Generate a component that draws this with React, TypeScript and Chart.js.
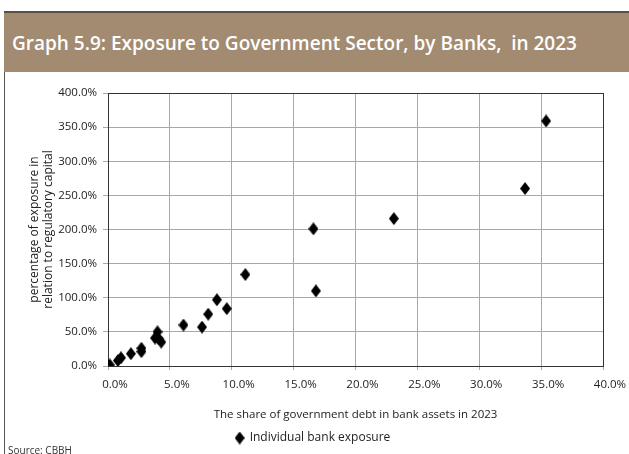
import React, { useEffect, useRef } from "react";
import { Chart, registerables } from "chart.js";

Chart.register(...registerables);

// ---- data ----
const governmentDebtShare = [35.4, 33.7, 23.1, 16.6, 16.8, 11.1, 8.8, 9.6, 8.1, 7.6, 6.1, 4.0, 3.8, 4.3, 4.1, 2.7, 2.7, 1.85, 1.05, 0.8, 0.15, 0.0];
const exposureToCapital = [359, 260, 216, 201, 110, 134, 97, 84, 76, 57, 60, 50, 41, 35, 40, 26, 21, 18, 12, 8, 1.5, 0.3];
const xTickValues = [0, 5, 10, 15, 20, 25, 30, 35, 40];
const yTickValues = [0, 50, 100, 150, 200, 250, 300, 350, 400];
const seriesLabel = "Individual bank exposure";
const chartTitle = "Graph 5.9: Exposure to Government Sector, by Banks,  in 2023";
const xAxisTitle = "The share of government debt in bank assets in 2023";
const yAxisTitle = ["percentage of exposure in", "relation to regulatory capital"];
const sourceNote = "Source: CBBH";

const FONT = "'Open Sans', 'Noto Sans', sans-serif";

function makeDiamond(w: number, h: number, color: string): HTMLCanvasElement {
  const c = document.createElement("canvas");
  c.width = w;
  c.height = h;
  const g = c.getContext("2d")!;
  g.fillStyle = color;
  g.beginPath();
  g.moveTo(w / 2, 0);
  g.lineTo(w, h / 2);
  g.lineTo(w / 2, h);
  g.lineTo(0, h / 2);
  g.closePath();
  g.fill();
  return c;
}

function ScatterChart() {
  const ref = useRef<HTMLCanvasElement | null>(null);

  useEffect(() => {
    if (!ref.current) return;
    const diamond = makeDiamond(10, 13, "#000000");
    const points = governmentDebtShare.map((x, i) => ({ x, y: exposureToCapital[i] }));
    const xMax = xTickValues[xTickValues.length - 1];
    const yMax = yTickValues[yTickValues.length - 1];

    const chart = new Chart(ref.current, {
      type: "scatter",
      data: {
        datasets: [
          {
            label: seriesLabel,
            data: points,
            pointStyle: diamond as any,
            backgroundColor: "#000",
            borderColor: "#000",
          },
        ],
      },
      options: {
        animation: false,
        responsive: false,
        devicePixelRatio: 1,
        layout: { padding: { left: 23, right: 26, top: 21, bottom: 0 } },
        plugins: {
          tooltip: { enabled: false },
          legend: {
            position: "bottom",
            labels: {
              usePointStyle: true,
              boxWidth: 8,
              padding: 10,
              color: "#222",
              font: { family: FONT, size: 12 },
            },
          },
        },
        scales: {
          x: {
            type: "linear",
            min: xTickValues[0],
            max: xMax,
            ticks: {
              stepSize: xTickValues[1] - xTickValues[0],
              callback: (v: any) => Number(v).toFixed(1) + "%",
              color: "#222",
              font: { family: FONT, size: 11.5 },
              padding: 8,
              labelOffset: 7,
              maxRotation: 0,
            },
            grid: {
              color: (ctx: any) => (ctx.tick && ctx.tick.value === xMax ? "#333" : "#a8a8a8"),
              tickColor: "#a8a8a8",
              tickLength: 4,
              lineWidth: 1,
            },
            border: { color: "#333", width: 1 },
            title: {
              display: true,
              text: xAxisTitle,
              color: "#222",
              font: { family: FONT, size: 11.5 },
              padding: { top: 4, bottom: 0 },
            },
            afterFit: (s: any) => {
              s.height = 56;
            },
          },
          y: {
            type: "linear",
            min: yTickValues[0],
            max: yMax,
            ticks: {
              stepSize: yTickValues[1] - yTickValues[0],
              callback: (v: any) => Number(v).toFixed(1) + "%",
              color: "#222",
              font: { family: FONT, size: 11.5 },
              padding: 6,
            },
            grid: {
              color: (ctx: any) => (ctx.tick && ctx.tick.value === yMax ? "#333" : "#a8a8a8"),
              tickColor: "#a8a8a8",
              tickLength: 5,
              lineWidth: 1,
            },
            border: { color: "#333", width: 1 },
            title: {
              display: true,
              text: yAxisTitle,
              color: "#222",
              font: { family: FONT, size: 12, lineHeight: 1.2 },
              padding: { top: 4, bottom: 0 },
            },
            afterFit: (s: any) => {
              s.width = 85;
            },
          },
        },
      } as any,
    });
    return () => chart.destroy();
  }, []);

  return (
    <canvas
      ref={ref}
      width={629}
      height={382}
      style={{ position: "absolute", left: 0, top: 72, width: 629, height: 382 }}
    />
  );
}

export default function App() {
  return (
    <div
      style={{
        position: "fixed",
        left: 0,
        top: 0,
        width: 629,
        height: 454,
        background: "#fff",
        overflow: "hidden",
        fontFamily: FONT,
      }}
    >
      <div
        style={{
          position: "absolute",
          left: 4,
          top: 11,
          width: 625,
          height: 2,
          background: "#5a5047",
        }}
      />
      <div
        style={{
          position: "absolute",
          left: 4,
          top: 13,
          width: 625,
          height: 59,
          background: "#a28b71",
          color: "#fff",
          fontWeight: 600,
          fontSize: 19,
          lineHeight: "60px",
          paddingLeft: 8,
          boxSizing: "border-box",
          whiteSpace: "pre",
        }}
      >
        {chartTitle}
      </div>
      <div
        style={{
          position: "absolute",
          left: 4,
          top: 72,
          width: 1,
          height: 382,
          background: "#555",
        }}
      />
      <ScatterChart />
      <div
        style={{
          position: "absolute",
          left: 8,
          top: 443,
          fontSize: 10,
          color: "#333",
          whiteSpace: "pre",
        }}
      >
        {sourceNote}
      </div>
    </div>
  );
}
